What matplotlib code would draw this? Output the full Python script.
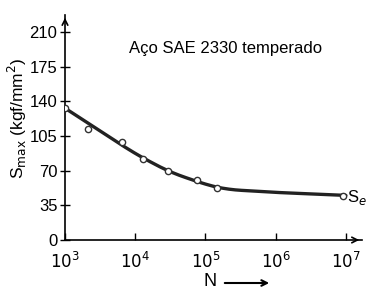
import matplotlib
matplotlib.use("Agg")
import matplotlib.pyplot as plt
import numpy as np

plt.rcParams['font.family'] = ['Liberation Sans', 'DejaVu Sans']

# Data
test_N = [1000, 2100, 6400, 13000, 29000, 76000, 145000, 9.0e6]
test_S = [133, 112, 99, 81.5, 70, 60.5, 52, 44.5]
curve_N = [1000, 3000, 10000, 30000, 100000, 200000, 1e6, 1e7]
curve_S = [133, 111, 87, 69, 56, 51, 48, 45]
y_ticks = [0, 35, 70, 105, 140, 175, 210]
x_ticks = [1e3, 1e4, 1e5, 1e6, 1e7]
x_ticklabels = ['$10^3$', '$10^4$', '$10^5$', '$10^6$', '$10^7$']
title = 'Aço SAE 2330 temperado'

fig = plt.figure(figsize=(3.71, 2.96), dpi=100)
ax = fig.add_axes([65/371, 56/296, 297/371, 225/296])

# smooth curve in log space
lx = np.log10(curve_N)
xs = np.linspace(lx[0], lx[-1], 400)
ys = np.interp(xs, lx, curve_S)
k = np.ones(41) / 41
ys_s = np.convolve(np.pad(ys, 20, mode='reflect', reflect_type='odd'), k, mode='valid')
ax.plot(10**xs, ys_s, color='#222222', lw=2.4, solid_capstyle='round', zorder=2)
ax.plot(test_N, test_S, 'o', ms=4.5, mfc='white', mec='#333333', mew=1, zorder=3)

ax.set_xscale('log')
ax.set_xlim(1e3, 10**7.23)
ax.set_ylim(0, 227)
ax.set_xticks(x_ticks)
ax.set_xticklabels(x_ticklabels)
ax.xaxis.set_minor_locator(matplotlib.ticker.NullLocator())
ax.set_yticks(y_ticks)
ax.tick_params(direction='in', length=5, width=1, labelsize=12, color='black')
ax.tick_params(axis='x', pad=8)
ax.tick_params(axis='y', direction='inout', length=7, pad=2)
for s in ['top', 'right']:
    ax.spines[s].set_visible(False)
for s in ['left', 'bottom']:
    ax.spines[s].set_linewidth(1.2)

# axis arrows
ax.annotate('', xy=(1.0, 0), xycoords='axes fraction', xytext=(0.97, 0),
            arrowprops=dict(arrowstyle='->', lw=1.2, color='black'))
ax.annotate('', xy=(0, 1.0), xycoords='axes fraction', xytext=(0, 0.96),
            arrowprops=dict(arrowstyle='->', lw=1.2, color='black'))

fig.text(17/371, 1 - 118/296, 'S$_{\\mathrm{max}}$ (kgf/mm$^2$)', fontsize=12.5,
         rotation=90, ha='center', va='center')
fig.text(210/371, 1 - 282/296, 'N', fontsize=13, ha='center', va='center')
fig.patches.append(matplotlib.patches.FancyArrowPatch(
    (222/371, 1 - 283/296), (272/371, 1 - 283/296), transform=fig.transFigure,
    arrowstyle='->', mutation_scale=10, lw=1.5, color='black'))

fig.text(226/371, 1 - 48/296, title, fontsize=12, ha='center', va='center')
ax.text(1.0e7 * 1.03, 43, 'S$_e$', fontsize=12, ha='left', va='center')

fig.savefig('out.png', dpi=100)
